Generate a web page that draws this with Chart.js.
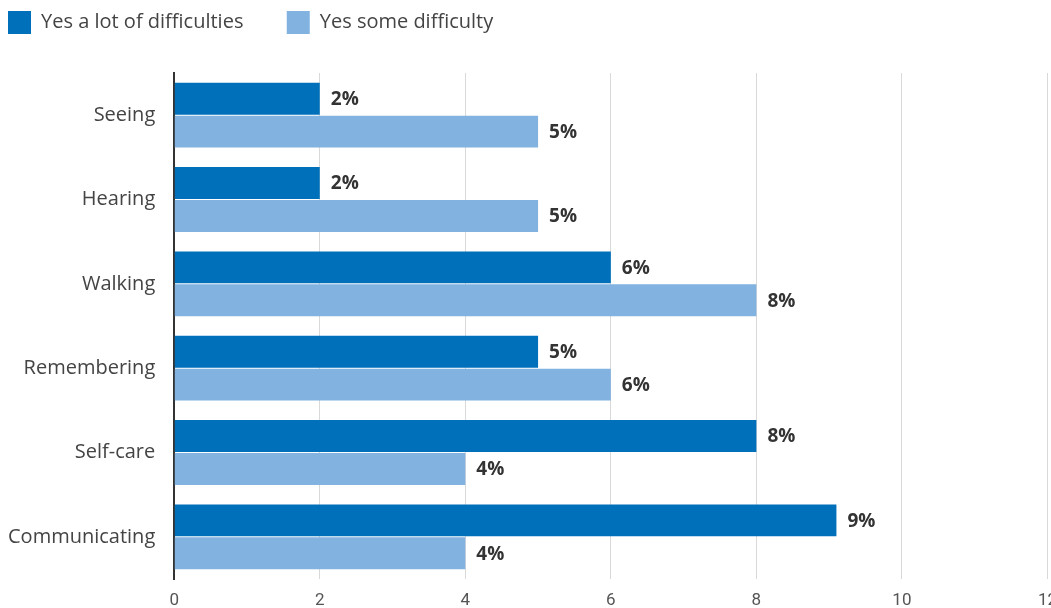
<!DOCTYPE html>
<html>
<head>
<meta charset="utf-8">
<script src="https://cdn.jsdelivr.net/npm/chart.js@4/dist/chart.umd.min.js"></script>
<style>
  html, body { margin: 0; padding: 0; overflow: hidden; background: #fff; }
  #barChart { position: absolute; left: 0; top: 0; }
</style>
</head>
<body>
<canvas id="barChart" width="1069" height="611"></canvas>
<script>
const categories = ["Seeing", "Hearing", "Walking", "Remembering", "Self-care", "Communicating"];
const seriesNames = ["Yes a lot of difficulties", "Yes some difficulty"];
const lotOfDifficulty = [2, 2, 6, 5, 8, 9.1];
const someDifficulty = [5, 5, 8, 6, 4, 4];
const xTicks = [0, 2, 4, 6, 8, 10, 12];

const colors = ["#0070ba", "#82b2e0"];
const fontFamily = "'Open Sans', 'Noto Sans', sans-serif";

// 凡例と描画領域の間の余白
const legendMargin = {
  id: "legendMargin",
  beforeInit(chart) {
    const fit = chart.legend.fit;
    chart.legend.fit = function () {
      fit.bind(chart.legend)();
      this.height += 29;
    };
  },
};

// 棒の右に値ラベル
const valueLabels = {
  id: "valueLabels",
  afterDatasetsDraw(chart) {
    const ctx = chart.ctx;
    ctx.save();
    ctx.font = "bold 19px " + fontFamily;
    ctx.fillStyle = "#333";
    ctx.textAlign = "left";
    ctx.textBaseline = "middle";
    chart.data.datasets.forEach((ds, i) => {
      chart.getDatasetMeta(i).data.forEach((bar, j) => {
        ctx.fillText(Math.round(ds.data[j]) + "%", bar.x + 11, bar.y + 1);
      });
    });
    ctx.restore();
  },
};

const ctx = document.getElementById("barChart").getContext("2d");
new Chart(ctx, {
  type: "bar",
  data: {
    labels: categories,
    datasets: [
      {
        label: seriesNames[0],
        data: lotOfDifficulty,
        backgroundColor: colors[0],
        barPercentage: 0.97,
        categoryPercentage: 0.78,
      },
      {
        label: seriesNames[1],
        data: someDifficulty,
        backgroundColor: colors[1],
        barPercentage: 0.97,
        categoryPercentage: 0.78,
      },
    ],
  },
  options: {
    indexAxis: "y",
    responsive: false,
    animation: false,
    layout: { padding: { left: 8, top: 11 } },
    plugins: {
      legend: {
        position: "top",
        align: "start",
        labels: {
          boxWidth: 23,
          boxHeight: 23,
          padding: 0,
          color: "#444",
          font: { family: fontFamily, size: 20 },
          generateLabels(chart) {
            const items = Chart.defaults.plugins.legend.labels.generateLabels(chart);
            items[0].text = items[0].text + "\u2003\u2003\u2009";
            items.forEach((it) => { it.lineWidth = 0; });
            return items;
          },
        },
      },
      tooltip: { enabled: false },
    },
    scales: {
      x: {
        min: 0,
        max: 12,
        afterBuildTicks(axis) {
          axis.ticks = xTicks.map((v) => ({ value: v }));
        },
        // パディングが上下二重に取られるので高さを固定
        afterFit(scale) {
          scale.height = 32;
        },
        grid: { color: "#d9d9d9", lineWidth: 1, drawTicks: false },
        border: { display: false },
        ticks: {
          padding: 12,
          color: "#555",
          maxRotation: 0,
          font: { family: "'Liberation Sans Narrow', 'Roboto', sans-serif", size: 17 },
        },
      },
      y: {
        afterFit(scale) {
          scale.width -= 19;
        },
        grid: { display: false, drawTicks: false },
        border: { display: true, color: "#333", width: 2 },
        ticks: {
          padding: 19,
          color: "#444",
          font: { family: fontFamily, size: 20 },
        },
      },
    },
  },
  plugins: [legendMargin, valueLabels],
});
</script>
</body>
</html>
